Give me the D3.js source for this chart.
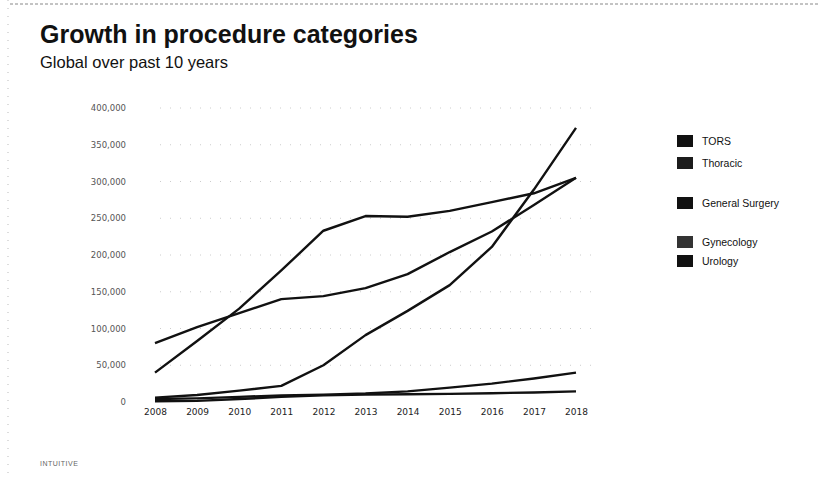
<!DOCTYPE html>
<html>
<head>
<meta charset="utf-8">
<script src="https://cdn.jsdelivr.net/npm/d3@7"></script>
<style>
  body { margin: 0; background: #fff; }
  svg { font-family: "Liberation Sans", Arial, sans-serif; }
</style>
</head>
<body>
<div id="chart"></div>
<script>
// data
var years = [2008, 2009, 2010, 2011, 2012, 2013, 2014, 2015, 2016, 2017, 2018];
var tors = [1000, 1500, 4000, 7000, 9000, 10000, 10500, 11000, 12000, 13000, 14500];
var thoracic = [4000, 5000, 7000, 9000, 10000, 11500, 14500, 19500, 25000, 32000, 40000];
var generalSurgery = [6000, 9500, 15500, 22000, 50000, 91000, 124000, 159000, 211000, 289000, 373000];
var gynecology = [40000, 83000, 127000, 179000, 233000, 253000, 252000, 260000, 272000, 284000, 305000];
var urology = [80000, 102000, 121000, 140000, 144000, 155000, 174000, 204000, 232000, 268000, 305000];
var seriesNames = ["TORS", "Thoracic", "General Surgery", "Gynecology", "Urology"];
var yTicks = [0, 50000, 100000, 150000, 200000, 250000, 300000, 350000, 400000];

var allSeries = [tors, thoracic, generalSurgery, gynecology, urology];
var swatchColors = ["#111", "#1c1c1c", "#111", "#333", "#111"];
var legendY = [141, 163, 203, 242, 261];

var w = 818, h = 487;

var svg = d3.select("#chart")
  .append("svg")
  .attr("width", w)
  .attr("height", h);

// scan edges
svg.append("line")
  .attr("x1", 10).attr("x2", w).attr("y1", 4).attr("y2", 4)
  .attr("stroke", "#888").attr("stroke-width", 1)
  .attr("stroke-dasharray", "3,2");
svg.append("line")
  .attr("x1", 8).attr("x2", 8).attr("y1", 0).attr("y2", 480)
  .attr("stroke", "#bbb").attr("stroke-width", 1)
  .attr("stroke-dasharray", "1,7");

svg.append("text")
  .attr("x", 40).attr("y", 43)
  .attr("font-size", "25px").attr("font-weight", "bold")
  .attr("fill", "#111")
  .text("Growth in procedure categories");

svg.append("text")
  .attr("x", 40).attr("y", 68)
  .attr("font-size", "16.5px")
  .attr("fill", "#111")
  .text("Global over past 10 years");

var x = d3.scalePoint().domain(years).range([155, 576]);
var y = d3.scaleLinear().domain([0, 400000]).range([402, 108]);

// faint grid
svg.selectAll("line.grid")
  .data(yTicks.slice(1))
  .enter()
  .append("line")
  .attr("class", "grid")
  .attr("x1", 160).attr("x2", 592)
  .attr("y1", function(d) { return y(d); })
  .attr("y2", function(d) { return y(d); })
  .attr("stroke", "#ccc")
  .attr("stroke-width", 1)
  .attr("stroke-dasharray", "1,9");

var yAxis = svg.append("g")
  .attr("transform", "translate(126,0)")
  .call(d3.axisLeft(y).tickValues(yTicks).tickSize(0).tickPadding(0)
    .tickFormat(d3.format(",")));
yAxis.select(".domain").remove();
yAxis.selectAll("text")
  .attr("font-family", "'DejaVu Sans', sans-serif")
  .attr("font-size", "8.5px")
  .attr("fill", "#555");

var xAxis = svg.append("g")
  .attr("transform", "translate(0,409)")
  .call(d3.axisBottom(x).tickSize(0).tickPadding(0).tickFormat(d3.format("d")));
xAxis.select(".domain").remove();
xAxis.selectAll("text")
  .attr("font-family", "'DejaVu Sans', sans-serif")
  .attr("font-size", "9px")
  .attr("fill", "#222");

var line = d3.line()
  .x(function(d, i) { return x(years[i]); })
  .y(function(d) { return y(d); });

svg.selectAll("path.series")
  .data(allSeries)
  .enter()
  .append("path")
  .attr("class", "series")
  .attr("d", line)
  .attr("fill", "none")
  .attr("stroke", "#111")
  .attr("stroke-width", 2.4)
  .attr("stroke-linejoin", "round");

// legend
var legend = svg.selectAll("g.legend")
  .data(seriesNames)
  .enter()
  .append("g")
  .attr("class", "legend")
  .attr("transform", function(d, i) { return "translate(677," + legendY[i] + ")"; });

legend.append("rect")
  .attr("x", 0).attr("y", -6)
  .attr("width", 16).attr("height", 12)
  .attr("fill", function(d, i) { return swatchColors[i]; });

legend.append("text")
  .attr("x", 25).attr("y", 4)
  .attr("font-size", "10.5px")
  .attr("fill", "#111")
  .text(function(d) { return d; });

svg.append("text")
  .attr("x", 40).attr("y", 466)
  .attr("font-size", "7px")
  .attr("letter-spacing", "0.5px")
  .attr("fill", "#666")
  .text("INTUITIVE");
</script>
</body>
</html>
